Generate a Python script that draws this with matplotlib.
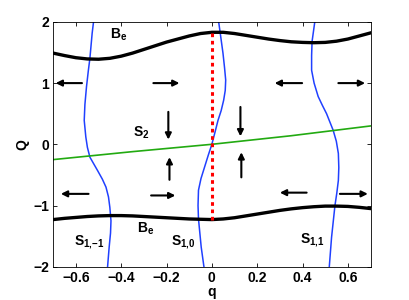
import numpy as np
import matplotlib.pyplot as plt

plt.rcParams['font.family'] = ['Liberation Sans', 'DejaVu Sans']
plt.rcParams['font.weight'] = 'bold'
plt.rcParams['mathtext.fontset'] = 'custom'
plt.rcParams['mathtext.bf'] = 'Liberation Sans:bold'
plt.rcParams['mathtext.rm'] = 'Liberation Sans:bold'

# upper and lower B_e curves
be_up_q = [-0.7, -0.65, -0.6, -0.55, -0.5, -0.45, -0.4, -0.35, -0.3, -0.25, -0.2, -0.15, -0.1, -0.05,
           0.0, 0.05, 0.1, 0.15, 0.2, 0.25, 0.3, 0.35, 0.4, 0.45, 0.5, 0.55, 0.6, 0.65, 0.7]
be_up_Q = [1.49, 1.45, 1.415, 1.395, 1.39, 1.405, 1.44, 1.49, 1.55, 1.61, 1.67, 1.72, 1.77, 1.81,
           1.83, 1.83, 1.81, 1.78, 1.75, 1.72, 1.695, 1.675, 1.665, 1.66, 1.665, 1.685, 1.72, 1.77, 1.82]
be_lo_q = [-0.7, -0.65, -0.6, -0.55, -0.5, -0.45, -0.4, -0.35, -0.3, -0.25, -0.2, -0.15, -0.1, -0.05,
           0.0, 0.05, 0.1, 0.15, 0.2, 0.25, 0.3, 0.35, 0.4, 0.45, 0.5, 0.55, 0.6, 0.65, 0.7]
be_lo_Q = [-1.23, -1.21, -1.195, -1.18, -1.17, -1.165, -1.165, -1.17, -1.18, -1.19, -1.20, -1.21, -1.22, -1.225,
           -1.23, -1.22, -1.20, -1.17, -1.14, -1.11, -1.08, -1.055, -1.035, -1.02, -1.01, -1.01, -1.015, -1.03, -1.05]

# S2 line
s2_q = [-0.7, -0.35, 0.0, 0.35, 0.7]
s2_Q = [-0.25, -0.12, 0.0, 0.14, 0.30]

# S1 curves (q as function of Q)
s1m_Q = [2.0, 1.815, 1.405, 1.2, 0.94, 0.65, 0.39, 0.12, -0.05, -0.21, -0.43, -0.57, -0.70, -0.86, -1.03, -1.25, -1.45, -1.68, -2.0]
s1m_q = [-0.522, -0.528, -0.538, -0.545, -0.553, -0.56, -0.563, -0.556, -0.549, -0.538, -0.504, -0.483, -0.467, -0.456, -0.450, -0.445, -0.447, -0.453, -0.46]
s10_Q = [2.0, 1.815, 1.49, 1.25, 1.05, 0.88, 0.72, 0.55, 0.39, 0.2, 0.0, -0.18, -0.37, -0.56, -0.75, -1.0, -1.22, -1.45, -1.68, -2.0]
s10_q = [0.030, 0.037, 0.049, 0.056, 0.061, 0.059, 0.052, 0.041, 0.027, 0.014, 0.0, -0.016, -0.032, -0.048, -0.059, -0.061, -0.059, -0.053, -0.047, -0.035]
s11_Q = [2.0, 1.68, 1.45, 1.21, 1.0, 0.78, 0.64, 0.50, 0.23, 0.05, -0.15, -0.38, -0.59, -0.8, -1.0, -1.52, -2.0]
s11_q = [0.454, 0.442, 0.44, 0.44, 0.451, 0.469, 0.487, 0.506, 0.535, 0.549, 0.558, 0.56, 0.558, 0.551, 0.543, 0.528, 0.518]

# red dotted segment
red_q = [0.0, 0.0]
red_Q = [-1.23, 1.83]

# arrows: tail (q, Q) -> head (q, Q)
arr_tail_q = [-0.573, -0.258, 0.398, 0.558, -0.192, 0.126, -0.187, 0.13, -0.544, -0.268, 0.418, 0.565]
arr_tail_Q = [1.0, 1.0, 1.0, 1.0, 0.53, 0.61, -0.58, -0.54, -0.81, -0.836, -0.79, -0.81]
arr_head_q = [-0.689, -0.143, 0.277, 0.676, -0.192, 0.126, -0.187, 0.13, -0.666, -0.161, 0.30, 0.688]
arr_head_Q = [1.0, 1.0, 1.0, 1.0, 0.077, 0.13, -0.21, -0.13, -0.81, -0.836, -0.79, -0.81]

labels = [r'$\mathbf{B_e}$', r'$\mathbf{B_e}$', r'$\mathbf{S_2}$',
          r'$\mathbf{S_{1{,}{-}1}}$', r'$\mathbf{S_{1{,}0}}$', r'$\mathbf{S_{1{,}1}}$']
lab_q = [-0.45, -0.33, -0.35, -0.61, -0.18, 0.39]
lab_Q = [1.72, -1.44, 0.12, -1.64, -1.64, -1.62]

fig = plt.figure(figsize=(4.09, 3.0), dpi=100)
ax = fig.add_axes([0.13, 0.111, 0.776, 0.816])

ax.plot(s1m_q, s1m_Q, color='#2040ff', lw=1.1)
ax.plot(s10_q, s10_Q, color='#2040ff', lw=1.1)
ax.plot(s11_q, s11_Q, color='#2040ff', lw=1.1)
ax.plot(s2_q, s2_Q, color='#22aa11', lw=1.2)
ax.plot(be_up_q, be_up_Q, color='k', lw=2.4)
ax.plot(be_lo_q, be_lo_Q, color='k', lw=2.4)
ax.plot(red_q, red_Q, color='red', lw=2.2, linestyle=(0, (1.2, 1.2)))

for tq, tQ, hq, hQ in zip(arr_tail_q, arr_tail_Q, arr_head_q, arr_head_Q):
    ax.annotate('', xy=(hq, hQ), xytext=(tq, tQ),
                arrowprops=dict(arrowstyle='-|>', color='k', lw=1.5,
                                mutation_scale=9, shrinkA=0, shrinkB=0))

for t, x, y in zip(labels, lab_q, lab_Q):
    ax.text(x, y, t, fontsize=10, ha='left', va='baseline')

ax.set_xlim(-0.7, 0.7)
ax.set_ylim(-2, 2)
ax.set_xticks([-0.6, -0.4, -0.2, 0, 0.2, 0.4, 0.6])
ax.set_xticklabels(['\u22120.6', '\u22120.4', '\u22120.2', '0', '0.2', '0.4', '0.6'])
ax.set_yticks([-2, -1, 0, 1, 2])
ax.set_yticklabels(['\u22122', '\u22121', '0', '1', '2'])
ax.tick_params(direction='in', top=True, right=True, labelsize=10, length=3, width=0.6, pad=3)
for s in ax.spines.values():
    s.set_linewidth(0.6)
ax.set_xlabel('q', fontsize=10, fontweight='bold', labelpad=0)
ax.set_ylabel('Q', fontsize=10, fontweight='bold', labelpad=3)

fig.savefig('out.png', dpi=100)
